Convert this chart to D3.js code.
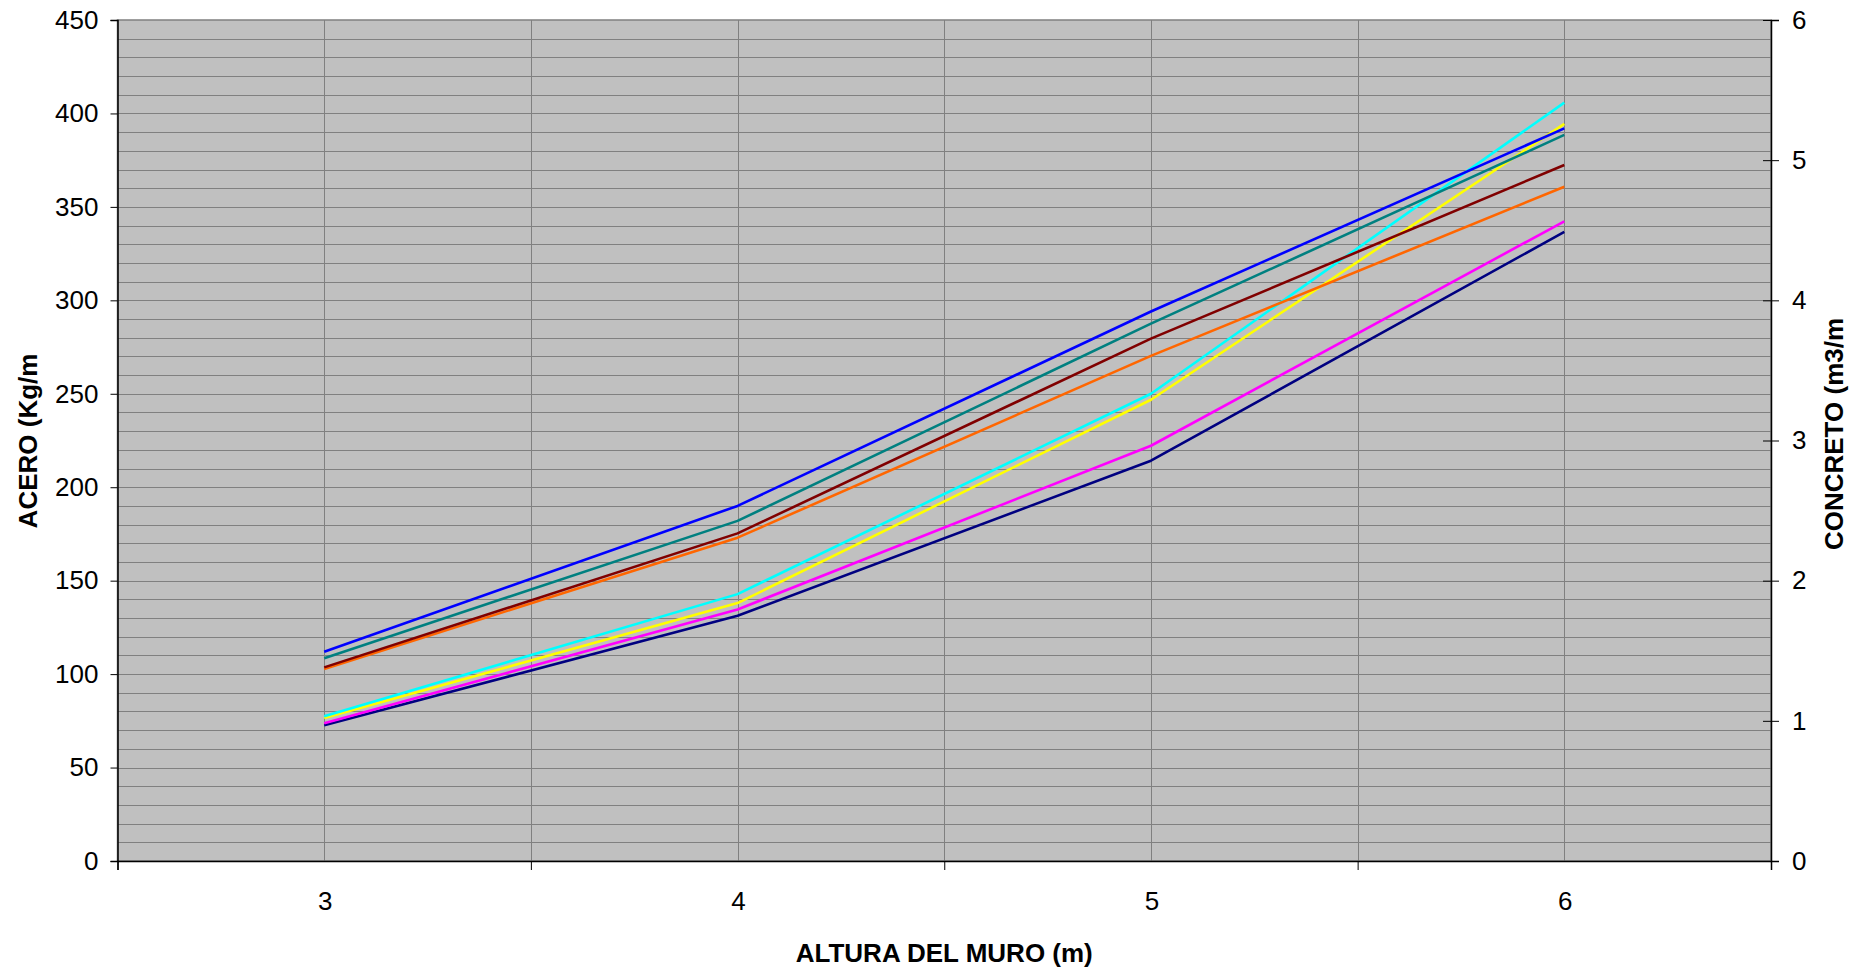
<!DOCTYPE html>
<html>
<head>
<meta charset="utf-8">
<script src="https://cdn.jsdelivr.net/npm/d3@7"></script>
<style>
  html, body { margin: 0; padding: 0; background: #ffffff; }
  svg { display: block; }
  text { font-family: "Liberation Sans", Arial, sans-serif; fill: #000; }
</style>
</head>
<body>
<svg id="chart" width="1864" height="969"></svg>
<script>
// ---- data ----
const heights = [3, 4, 5, 6];
const seriesNames = ["S1", "S2", "S3", "S4", "S5", "S6", "S7", "S8"];
const seriesColors = ["#000080", "#FF00FF", "#FFFF00", "#00FFFF", "#FF6600", "#800000", "#008080", "#0000FF"];
const navyValues    = [72.6, 131.2, 214.2, 336.6];
const magentaValues = [73.7, 134.6, 222.2, 342.3];
const yellowValues  = [76.5, 138.0, 246.8, 394.4];
const cyanValues    = [77.5, 142.8, 250.0, 405.8];
const orangeValues  = [102.7, 173.0, 270.3, 360.8];
const maroonValues  = [103.6, 175.3, 279.5, 372.4];
const tealValues    = [108.5, 182.0, 287.5, 388.5];
const blueValues    = [112.0, 190.0, 294.0, 392.0];
const leftTicks  = [0, 50, 100, 150, 200, 250, 300, 350, 400, 450];
const rightTicks = [0, 1, 2, 3, 4, 5, 6];
const xTickLabels = ["3", "4", "5", "6"];
const xTitle = "ALTURA DEL MURO (m)";
const yLeftTitle = "ACERO (Kg/m";
const yRightTitle = "CONCRETO (m3/m";

const allSeries = [navyValues, magentaValues, yellowValues, cyanValues,
                   orangeValues, maroonValues, tealValues, blueValues];

// ---- layout ----
const L = 117.5, R = 1771, T = 20, B = 861;
const svg = d3.select("#chart");

const x = d3.scaleLinear().domain([2.5, 6.5]).range([L, R]);
const yL = d3.scaleLinear().domain([0, 450]).range([B, T]);
const yR = d3.scaleLinear().domain([0, 6]).range([B, T]);

// plot background
svg.append("rect").attr("x", L).attr("y", T).attr("width", R - L).attr("height", B - T)
  .attr("fill", "#C0C0C0").attr("stroke", "#808080").attr("stroke-width", 1.5);

// horizontal gridlines (every 10)
const hGrid = d3.range(10, 450, 10);
svg.append("g").selectAll("line").data(hGrid).join("line")
  .attr("x1", L).attr("x2", R)
  .attr("y1", d => Math.round(yL(d)) + 0.5).attr("y2", d => Math.round(yL(d)) + 0.5)
  .attr("stroke", "#808080").attr("stroke-width", 1);

// vertical gridlines at categories and boundaries
const vGrid = [3, 3.5, 4, 4.5, 5, 5.5, 6];
svg.append("g").selectAll("line").data(vGrid).join("line")
  .attr("x1", d => Math.round(x(d)) + 0.5).attr("x2", d => Math.round(x(d)) + 0.5)
  .attr("y1", T).attr("y2", B)
  .attr("stroke", "#808080").attr("stroke-width", 1);

// series lines
const line = d3.line().x((d, i) => x(heights[i])).y(d => yL(d));
svg.append("g").selectAll("path").data(allSeries).join("path")
  .attr("d", d => line(d))
  .attr("fill", "none")
  .attr("stroke", (d, i) => seriesColors[i])
  .attr("stroke-width", 2.6)
  .attr("stroke-linejoin", "round");

// left axis
const axL = d3.axisLeft(yL).tickValues(leftTicks).tickSize(7).tickPadding(12).tickFormat(d3.format("d"));
const gL = svg.append("g").attr("transform", `translate(${L},0)`).call(axL);
gL.select(".domain").attr("stroke", "#000").attr("stroke-width", 1.5);
gL.selectAll(".tick line").attr("stroke", "#000");
gL.selectAll("text").attr("font-size", 26).attr("font-family", "Liberation Sans, Arial, sans-serif");

// right axis
const axR = d3.axisRight(yR).tickValues(rightTicks).tickSize(8).tickPadding(13).tickFormat(d3.format("d"));
const gR = svg.append("g").attr("transform", `translate(${R},0)`).call(axR);
gR.select(".domain").attr("stroke", "#000").attr("stroke-width", 1.5);
gR.selectAll(".tick line").attr("stroke", "#000").attr("x1", -8);
gR.selectAll("text").attr("font-size", 26).attr("font-family", "Liberation Sans, Arial, sans-serif");

// bottom axis: ticks at category boundaries, labels at centers
const axB = d3.axisBottom(x).tickValues([2.5, 3.5, 4.5, 5.5, 6.5]).tickSize(9).tickFormat("");
const gB = svg.append("g").attr("transform", `translate(0,${B})`).call(axB);
gB.select(".domain").attr("stroke", "#000").attr("stroke-width", 1.5);
gB.selectAll(".tick line").attr("stroke", "#000");
svg.append("g").selectAll("text").data(heights).join("text")
  .attr("x", d => x(d) + 1).attr("y", 910)
  .attr("text-anchor", "middle").attr("font-size", 26)
  .text((d, i) => xTickLabels[i]);

// axis titles
svg.append("text").attr("x", (L + R) / 2).attr("y", 962)
  .attr("text-anchor", "middle").attr("font-size", 26).attr("font-weight", "bold")
  .text(xTitle);
svg.append("text").attr("transform", "translate(37,441) rotate(-90)")
  .attr("text-anchor", "middle").attr("font-size", 26).attr("font-weight", "bold")
  .text(yLeftTitle);
svg.append("text").attr("transform", "translate(1843,434) rotate(-90)")
  .attr("text-anchor", "middle").attr("font-size", 26).attr("font-weight", "bold")
  .text(yRightTitle);
</script>
</body>
</html>
